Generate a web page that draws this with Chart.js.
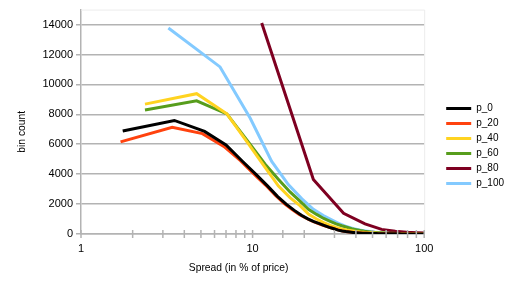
<!DOCTYPE html>
<html><head><meta charset="utf-8">
<script src="https://cdn.jsdelivr.net/npm/chart.js@4"></script>
<style>html,body{margin:0;padding:0;background:#fff}#wrap{width:517px;height:291px}</style>
</head><body><div id="wrap"><canvas id="c" width="517" height="291"></canvas></div>
<script>
const seriesNames = ['p_0','p_20','p_40','p_60','p_80','p_100'];
const seriesColors = ['#000000','#ff420e','#ffd320','#579d1c','#7e0021','#83caff'];
const xTitle = 'Spread (in % of price)';
const yTitle = 'bin count';
const xTickLabels = [1, 10, 100];
const yTickValues = [0, 2000, 4000, 6000, 8000, 10000, 12000, 14000];

const p0X = [1.75,3.5,5.25,7,8.75,10.5,12.25,14,15.75,17.5,19.25,21,22.75,24.5,26.25,28,29.75,31.5,33.25,35,36.75,38.5,40.25,42,43.75,45.5,47.25,49,50.75,52.5,54.25,56,57.75,59.5,61.25,63,64.75,66.5,68.25,70,71.75,73.5,75.25,77,78.75,80.5,82.25,84,85.75,87.5,89.25,91,92.75,94.5,96.25,98,99.75];
const p0Y = [6880,7590,6860,5950,4850,3970,3200,2500,1980,1580,1250,1010,830,690,560,440,350,260,200,160,130,105,85,70,58,50,43,37,32,28,25,22,20,18,16,14,13,12,11,10,9,8,8,7,7,6,6,5,5,5,4,4,4,3,3,3,3];

const p20X = [1.7,3.4,5.1,6.8,8.5,10.2,11.9,13.6,15.3,17,18.7,20.4,22.1,23.8,25.5,27.2,28.9,30.6,32.3,34,35.7,37.4,39.1,40.8,42.5,44.2,45.9,47.6,49.3,51,52.7,54.4,56.1,57.8,59.5,61.2,62.9,64.6,66.3,68,69.7,71.4,73.1,74.8,76.5,78.2,79.9,81.6,83.3,85,86.7,88.4,90.1,91.8,93.5,95.2,96.9,98.6];
const p20Y = [6160,7140,6710,5850,4900,4000,3270,2580,2040,1640,1310,1070,870,730,600,490,400,310,240,190,155,125,100,82,68,57,48,41,35,30,26,23,20,18,16,14,13,12,11,10,9,8,8,7,7,6,6,5,5,5,4,4,4,3,3,3,3,3];

const p40X = [2.36,4.72,7.08,9.44,11.8,14.16,16.52,18.88,21.24,23.6,25.96,28.32,30.68,33.04,35.4,37.76,40.12,42.48,44.84,47.2,49.56,51.92,54.28,56.64,59,61.36,63.72,66.08,68.44,70.8,73.16,75.52,77.88,80.24,82.6,84.96,87.32,89.68,92.04,94.4,96.76,99.12];
const p40Y = [8680,9380,8030,6040,4470,3200,2430,1900,1310,1000,760,570,440,340,270,220,170,135,110,95,80,68,58,50,43,37,32,28,25,22,20,18,16,14,13,12,11,10,9,8,8,7];

const p60X = [2.36,4.72,7.08,9.44,11.8,14.16,16.52,18.88,21.24,23.6,25.96,28.32,30.68,33.04,35.4,37.76,40.12,42.48,44.84,47.2,49.56,51.92,54.28,56.64,59,61.36,63.72,66.08,68.44,70.8,73.16,75.52,77.88,80.24,82.6,84.96,87.32,89.68,92.04,94.4,96.76,99.12];
const p60Y = [8290,8900,8030,6150,4680,3650,2810,2200,1640,1310,1040,850,680,550,450,355,290,230,180,150,125,105,90,77,66,57,49,43,38,33,29,26,23,20,18,16,14,13,12,11,10,9];

const p80X = [11.3,22.6,33.9,45.2,56.5,67.8,79.1,90.4,101.7];
const p80Y = [14100,3640,1380,680,310,180,115,80,60];

const p100X = [3.23,6.46,9.69,12.92,16.15,19.38,22.61,25.84,29.07,32.3,35.53,38.76,41.99,45.22,48.45,51.68,54.91,58.14,61.37,64.6,67.83,71.06,74.29,77.52,80.75,83.98,87.21,90.44,93.67,96.9];
const p100Y = [13770,11170,7740,4850,3300,2350,1650,1230,930,670,480,360,270,210,160,125,100,82,68,57,48,41,35,30,26,23,20,18,16,14];

const allX = [p0X,p20X,p40X,p60X,p80X,p100X];
const allY = [p0Y,p20Y,p40Y,p60Y,p80Y,p100Y];

const FONT = '"Liberation Sans", Arial, sans-serif';
const GRID = '#b3b3b3';

const datasets = seriesNames.map((n,i)=>({
  label:n,
  data: allX[i].map((x,k)=>({x:x, y:allY[i][k]})),
  borderColor: seriesColors[i],
  backgroundColor: seriesColors[i],
  borderWidth: 3,
  pointRadius: 0,
  pointHoverRadius: 0,
  tension: 0,
  fill: false
}));

const deco = {
  id:'deco',
  afterLayout(chart){
    // nudge legend box
    const lg = chart.legend;
    if (lg) { lg.left += 17; lg.right += 17; lg.top -= 3; lg.bottom -= 3; }
  },
  beforeDatasetsDraw(chart){
    const {ctx, chartArea:a} = chart;
    ctx.save();
    ctx.strokeStyle = '#ececec'; ctx.lineWidth = 1;
    ctx.beginPath();
    ctx.moveTo(a.left, a.top+0.5); ctx.lineTo(a.right+0.5, a.top+0.5); ctx.lineTo(a.right+0.5, a.bottom);
    ctx.stroke();
    ctx.restore();
  },
  afterDraw(chart){
    const {ctx, chartArea:a, scales:{x}} = chart;
    ctx.save();
    ctx.strokeStyle = GRID; ctx.lineWidth = 1.5;
    x.ticks.forEach(t=>{
      const px = x.getPixelForValue(t.value);
      ctx.beginPath(); ctx.moveTo(px, a.bottom-4); ctx.lineTo(px, a.bottom+4); ctx.stroke();
    });
    ctx.fillStyle = '#000';
    ctx.font = '10.3px ' + FONT;
    ctx.textAlign = 'center'; ctx.textBaseline = 'middle';
    ctx.fillText(xTitle, (a.left+a.right)/2 - 14, a.bottom + 34);
    ctx.translate(22, (a.top+a.bottom)/2 + 10);
    ctx.rotate(-Math.PI/2);
    ctx.fillText(yTitle, 0, 0);
    ctx.restore();
  }
};

new Chart(document.getElementById('c'), {
  type:'line',
  data:{datasets},
  plugins:[deco],
  options:{
    responsive:false,
    animation:false,
    events:[],
    layout:{padding:{top:7, right:20, bottom:0, left:0}},
    plugins:{
      tooltip:{enabled:false},
      legend:{
        position:'right', align:'center',
        labels:{
          boxWidth:25, boxHeight:3, padding:5, color:'#000',
          font:{family:FONT, size:10},
          generateLabels(chart){
            return Chart.defaults.plugins.legend.labels.generateLabels(chart).map(l=>({...l, lineWidth:0}));
          }
        }
      }
    },
    scales:{
      x:{
        type:'logarithmic', min:1, max:100,
        afterFit(s){ s.height = 57; },
        grid:{display:true, drawOnChartArea:false, drawTicks:false, color:GRID},
        border:{display:true, color:GRID, width:1.5},
        ticks:{
          autoSkip:false, maxRotation:0, padding:8, color:'#000',
          font:{family:FONT, size:11},
          callback(v){ return xTickLabels.includes(v) ? String(v) : ''; }
        }
      },
      y:{
        min:0, max:15000,
        afterFit(s){ s.width = 81; },
        afterBuildTicks(s){ s.ticks = yTickValues.map(v=>({value:v})); },
        grid:{color:GRID, lineWidth:1.5, tickLength:5},
        border:{display:true, color:GRID, width:1.5},
        ticks:{padding:3, color:'#000', font:{family:FONT, size:11}, callback(v){ return String(v); }}
      }
    }
  }
});
</script></body></html>
